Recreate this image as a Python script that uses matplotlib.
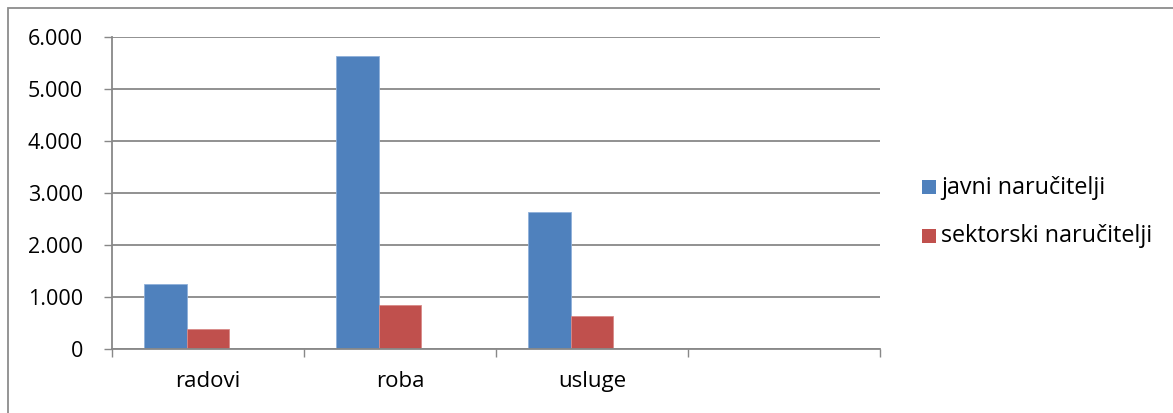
import matplotlib
matplotlib.use("Agg")
import matplotlib.pyplot as plt
from matplotlib.patches import Rectangle
import numpy as np

categories = ["radovi", "roba", "usluge", ""]
javni = [1245, 5640, 2640, np.nan]
sektorski = [380, 840, 640, np.nan]
series_names = ["javni naručitelji", "sektorski naručitelji"]
yticks = [0, 1000, 2000, 3000, 4000, 5000, 6000]
ytick_labels = ["0", "1.000", "2.000", "3.000", "4.000", "5.000", "6.000"]

BLUE = "#4F81BD"
RED = "#C0504D"
GRID = "#888888"
FS = 15.5

plt.rcParams["font.family"] = ["Open Sans", "DejaVu Sans"]
W, H = 1173, 413
fig = plt.figure(figsize=(W / 100, H / 100), dpi=100)
fig.patch.set_facecolor("white")

# outer chart border (right/bottom lie outside the image)
fig.add_artist(Rectangle((8 / W, -0.1), 1.2, (413 - 8) / H + 0.1, transform=fig.transFigure,
                         fill=False, edgecolor="#8c8c8c", linewidth=1.3))

ax = fig.add_axes([112 / W, (413 - 349) / H, 768 / W, 312 / H])
n = len(categories)
centers = np.arange(n) + 0.5
bw = 0.2222
ax.bar(centers - bw, javni, width=bw, color=BLUE, edgecolor="#8FB0DA", linewidth=0.6, zorder=3)
ax.bar(centers, sektorski, width=bw, color=RED, edgecolor="#D88A88", linewidth=0.6, zorder=3)

ax.set_xlim(0, n)
ax.set_ylim(0, 6000)
ax.set_yticks(yticks)
ax.set_yticklabels(ytick_labels)
ax.set_xticks(np.arange(n + 1))
ax.set_xticklabels([])
ax.set_xticks(centers, minor=True)
ax.set_xticklabels(categories, minor=True)
ax.tick_params(axis="x", which="major", length=6, width=1, color=GRID, direction="out")
ax.tick_params(axis="x", which="minor", length=0, pad=16, labelsize=16, labelcolor="black")
ax.tick_params(axis="y", length=6, width=1, color=GRID, direction="out", pad=15,
               labelsize=FS, labelcolor="black")
ax.grid(axis="y", color=GRID, linewidth=1.3, zorder=0)
ax.set_axisbelow(True)
for s in ["top", "right"]:
    ax.spines[s].set_visible(False)
ax.spines["left"].set_color(GRID)
ax.spines["bottom"].set_color(GRID)
ax.spines["left"].set_linewidth(1.3)
ax.spines["bottom"].set_linewidth(1.3)
ax.spines["bottom"].set_zorder(4)

# legend
for i, (name, col) in enumerate(zip(series_names, [BLUE, RED])):
    yc = 187.5 + i * 48.5
    fig.add_artist(Rectangle((922 / W, 1 - (yc + 7) / H), 14 / W, 14 / H,
                             transform=fig.transFigure, facecolor=col, edgecolor="none"))
    fig.text(941 / W, 1 - (yc + 0.5) / H, name, fontsize=16.8, va="center", ha="left", color="black")

fig.savefig("out.png", dpi=100)
